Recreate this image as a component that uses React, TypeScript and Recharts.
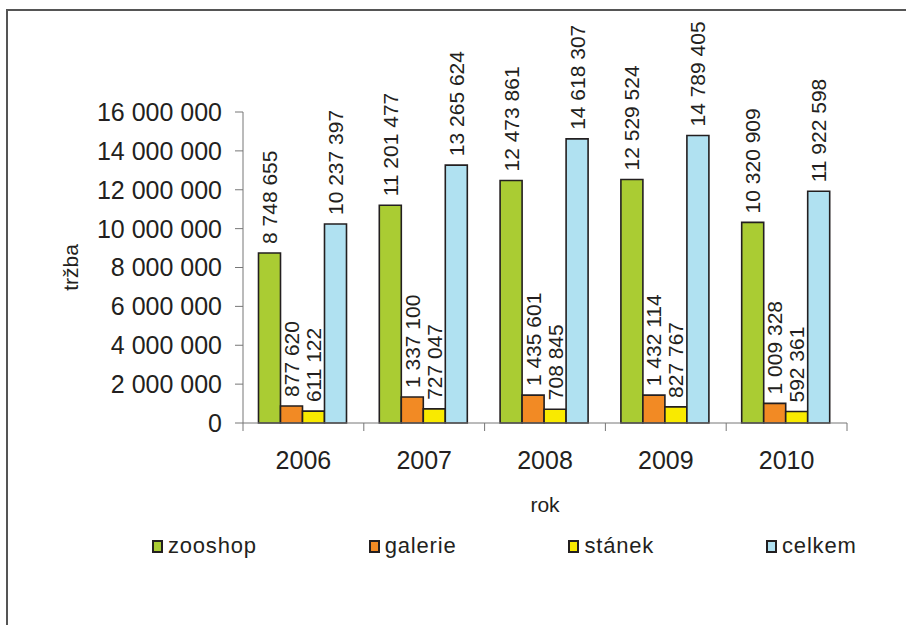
import React from 'react';
import { BarChart, Bar, XAxis, YAxis, Legend, LabelList } from 'recharts';

const years = ['2006', '2007', '2008', '2009', '2010'];
const zooshop = [8748655, 11201477, 12473861, 12529524, 10320909];
const galerie = [877620, 1337100, 1435601, 1432114, 1009328];
const stanek = [611122, 727047, 708845, 827767, 592361];
const celkem = [10237397, 13265624, 14618307, 14789405, 11922598];
const yTicks = [0, 2000000, 4000000, 6000000, 8000000, 10000000, 12000000, 14000000, 16000000];

const seriesNames = ['zooshop', 'galerie', 'stánek', 'celkem'];
const seriesKeys = ['zooshop', 'galerie', 'stanek', 'celkem'];
const seriesColors = ['#aacc33', '#f28a24', '#f9ea00', '#b0e1f1'];

const data = years.map((y, i) => ({
  year: y,
  zooshop: zooshop[i],
  galerie: galerie[i],
  stanek: stanek[i],
  celkem: celkem[i],
}));

const fmt = (v: number) => String(Math.round(v)).replace(/\B(?=(\d{3})+(?!\d))/g, ' ');

const FONT = '"Liberation Sans", Arial, sans-serif';
const X_TICK_MARGIN = 28;

const BarLabel = (props: any) => {
  const { x, y, width, value } = props;
  const cx = Number(x) + Number(width) / 2;
  const cy = Number(y) - 9;
  return (
    <text
      x={cx}
      y={cy}
      transform={`rotate(-90 ${cx} ${cy})`}
      textAnchor="start"
      dominantBaseline="central"
      fontFamily={FONT}
      fontSize={21}
      fill="#231f20"
    >
      {fmt(value)}
    </text>
  );
};

const XTick = (props: any) => {
  const { x, y, payload, index, width } = props;
  const half = Number(width) / years.length / 2;
  const axisY = Number(y) - X_TICK_MARGIN;
  return (
    <g>
      <line x1={x - half} x2={x - half} y1={axisY} y2={axisY + 8} stroke="#777" strokeWidth={1} />
      {index === years.length - 1 && (
        <line x1={x + half} x2={x + half} y1={axisY} y2={axisY + 8} stroke="#777" strokeWidth={1} />
      )}
      <text x={x} y={y} dy="0.71em" textAnchor="middle" fill="#231f20" fontSize={25} fontFamily={FONT}>
        {payload.value}
      </text>
    </g>
  );
};

const LegendContent = () => (
  <div style={{ display: 'flex', gap: 112, paddingLeft: 152, fontFamily: FONT, fontSize: 22, color: '#231f20', alignItems: 'center' }}>
    {seriesNames.map((n, i) => (
      <div key={n} style={{ display: 'flex', alignItems: 'center' }}>
        <span style={{ display: 'inline-block', boxSizing: 'border-box', width: 11, height: 13, background: seriesColors[i], border: '2px solid #231f20', marginRight: 5 }} />
        <span style={{ letterSpacing: 0.8 }}>{n}</span>
      </div>
    ))}
  </div>
);

const YLabel = (props: any) => {
  const vb = props.viewBox || { x: 0, y: 112, width: 243, height: 311 };
  const cx = 70;
  const cy = vb.y + vb.height / 2;
  return (
    <text x={cx} y={cy} transform={`rotate(-90 ${cx} ${cy})`} textAnchor="middle" dominantBaseline="central" fontFamily={FONT} fontSize={21} fill="#231f20">
      tržba
    </text>
  );
};

export default function App() {
  return (
    <div style={{ position: 'absolute', left: 0, top: 0, width: 906, height: 625, background: '#fff', overflow: 'hidden' }}>
      <div style={{ position: 'absolute', left: 6, top: 9, width: 920, height: 640, borderLeft: '2px solid #555', borderTop: '2px solid #555' }} />
      <div style={{ position: 'absolute', left: 0, top: 0 }}>
        <BarChart
          width={906}
          height={625}
          data={data}
          margin={{ top: 112, right: 59, bottom: 0, left: 0 }}
          barCategoryGap={15.5}
          barGap={0}
        >
          <XAxis
            dataKey="year"
            height={202}
            tickLine={false}
            tickSize={0}
            tickMargin={X_TICK_MARGIN}
            stroke="#777"
            interval={0}
            tick={<XTick />}
            label={{ value: 'rok', position: 'insideTop', offset: 74, fill: '#231f20', fontSize: 21, fontFamily: FONT }}
          />
          <YAxis
            width={243}
            domain={[0, 16000000]}
            ticks={yTicks}
            tickFormatter={fmt}
            interval={0}
            stroke="#777"
            tickSize={8}
            tickMargin={13}
            tick={{ fill: '#231f20', fontSize: 25, fontFamily: FONT }}
            label={<YLabel />}
          />
          <Legend
            layout="vertical"
            verticalAlign="middle"
            align="center"
            content={<LegendContent />}
            wrapperStyle={{ position: 'absolute', left: 0, top: 533, width: 906 }}
          />
          {seriesKeys.map((k, i) => (
            <Bar
              key={k}
              dataKey={k}
              name={seriesNames[i]}
              fill={seriesColors[i]}
              stroke="#231f20"
              strokeWidth={1.6}
              isAnimationActive={false}
            >
              <LabelList dataKey={k} content={<BarLabel />} />
            </Bar>
          ))}
        </BarChart>
      </div>
    </div>
  );
}
